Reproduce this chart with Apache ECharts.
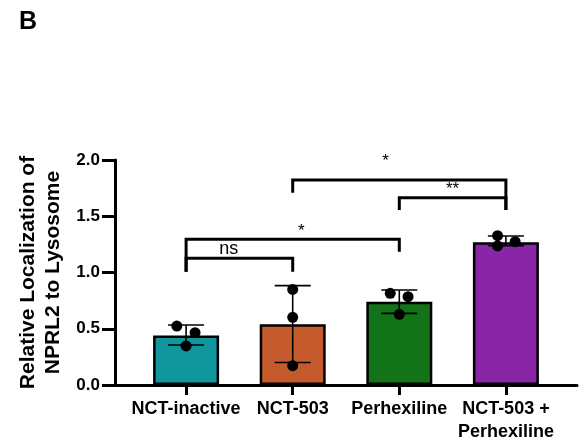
<!DOCTYPE html>
<html>
<head>
<meta charset="utf-8">
<script src="https://cdn.jsdelivr.net/npm/echarts@6/dist/echarts.min.js"></script>
<style>
html,body{margin:0;padding:0;background:#fff;}
#c{width:582px;height:444px;}
</style>
</head>
<body>
<div id="c"></div>
<script>
// ---- data ----
var categories = ['NCT-inactive', 'NCT-503', 'Perhexiline', 'NCT-503 +\nPerhexiline'];
var barColors = ['#10979e', '#c55a2c', '#137319', '#8826a6'];
var means = [0.44, 0.54, 0.74, 1.27];
var errLow = [0.355, 0.20, 0.637, 1.238];
var errHigh = [0.533, 0.883, 0.844, 1.324];
var points = [
  [0.524, 0.465, 0.347],
  [0.85, 0.602, 0.172],
  [0.815, 0.785, 0.628],
  [1.327, 1.274, 1.236]
];
var jitter = [
  [-0.087, 0.084, 0],
  [0, 0, 0],
  [-0.085, 0.082, 0],
  [-0.078, 0.087, -0.078]
];
// brackets: [fromIndex, toIndex, topY, leftLegY, rightLegY]
var brackets = [
  [0, 1, 1.126, 1.007, 1.007],
  [0, 2, 1.295, 1.007, 1.185],
  [2, 3, 1.665, 1.556, 1.556],
  [1, 3, 1.822, 1.709, 1.556]
];
var bracketLabels = ['ns', '*', '**', '*'];
var bracketLabelX = [0.40, 1.08, 2.50, 1.87];
var bracketLabelY = [1.126, 1.295, 1.665, 1.91];
var yTicks = [0, 0.5, 1.0, 1.5, 2.0];

// ---- build ----
var FONT = 'Liberation Sans, Arial, Helvetica, sans-serif';
var barData = means.map(function (v, i) {
  return { value: [i, v], itemStyle: { color: barColors[i] } };
});
var errData = means.map(function (v, i) { return [i, errLow[i], errHigh[i]]; });
var dotData = [];
points.forEach(function (arr, i) {
  arr.forEach(function (v, j) { dotData.push([i + jitter[i][j], v]); });
});
var brData = brackets.map(function (b) { return b.slice(); });
var lblData = bracketLabels.map(function (t, i) { return [bracketLabelX[i], bracketLabelY[i], t]; });

var chart = echarts.init(document.getElementById('c'), null, { renderer: 'canvas' });
chart.setOption({
  animation: false,
  backgroundColor: '#fff',
  textStyle: { fontFamily: FONT },
  title: {
    text: 'B', left: 14, top: 5,
    textStyle: { fontSize: 25, fontWeight: 'bold', color: '#000', fontFamily: FONT }
  },
  grid: { left: 115, right: 5, top: 160, bottom: 59, containLabel: false },
  xAxis: {
    type: 'value', min: -0.667, max: 3.667,
    splitLine: { show: false },
    axisLine: { show: true, onZero: false, lineStyle: { color: '#000', width: 3 } },
    axisTick: { show: true, length: 10, lineStyle: { color: '#000', width: 3 }, customValues: [0, 1, 2, 3] },
    axisLabel: {
      customValues: [0, 1, 2, 3],
      formatter: function (v) { return categories[Math.round(v)]; },
      color: '#000', fontSize: 18, fontWeight: 'bold', margin: 13, lineHeight: 23, fontFamily: FONT
    }
  },
  yAxis: {
    type: 'value', min: 0, max: 2.0, interval: 0.5,
    name: 'Relative Localization of\nNPRL2 to Lysosome',
    nameLocation: 'middle', nameRotate: 90, nameGap: 45,
    nameTextStyle: { fontSize: 21, fontWeight: 'bold', color: '#000', lineHeight: 25, fontFamily: FONT },
    splitLine: { show: false },
    axisLine: { show: true, onZero: false, lineStyle: { color: '#000', width: 3 } },
    axisTick: { show: true, length: 13, lineStyle: { color: '#000', width: 3 } },
    axisLabel: {
      formatter: function (v) { return v.toFixed(1); },
      color: '#000', fontSize: 17, fontWeight: 'bold', margin: 15, fontFamily: FONT
    }
  },
  series: [
    {
      type: 'bar', data: barData, barWidth: 66, z: 2,
      itemStyle: { borderColor: '#000', borderWidth: 2.5 }
    },
    {
      type: 'custom', z: 3, data: errData,
      renderItem: function (params, api) {
        var x = api.value(0);
        var lo = api.coord([x, api.value(1)]);
        var hi = api.coord([x, api.value(2)]);
        var half = 18;
        var st = { stroke: '#000', lineWidth: 1.6 };
        return {
          type: 'group', children: [
            { type: 'line', shape: { x1: lo[0], y1: lo[1], x2: hi[0], y2: hi[1] }, style: st },
            { type: 'line', shape: { x1: hi[0] - half, y1: hi[1], x2: hi[0] + half, y2: hi[1] }, style: st },
            { type: 'line', shape: { x1: lo[0] - half, y1: lo[1], x2: lo[0] + half, y2: lo[1] }, style: st }
          ]
        };
      }
    },
    {
      type: 'scatter', z: 4, data: dotData, symbol: 'circle', symbolSize: 11,
      itemStyle: { color: '#000', opacity: 1 }
    },
    {
      type: 'custom', z: 5, data: brData,
      renderItem: function (params, api) {
        var x1 = api.value(0), x2 = api.value(1);
        var top = api.value(2), ll = api.value(3), rl = api.value(4);
        var a = api.coord([x1, ll]), b = api.coord([x1, top]);
        var c = api.coord([x2, top]), d = api.coord([x2, rl]);
        return {
          type: 'polyline',
          shape: { points: [a, b, c, d] },
          style: { stroke: '#000', lineWidth: 3, fill: null, lineJoin: 'miter' }
        };
      }
    },
    {
      type: 'custom', z: 6, data: lblData,
      renderItem: function (params, api) {
        var p = api.coord([api.value(0), api.value(1)]);
        var t = bracketLabels[params.dataIndex];
        return {
          type: 'text',
          style: {
            x: p[0], y: p[1], text: t,
            align: 'center', verticalAlign: 'bottom',
            fontSize: t === 'ns' ? 18 : 17, fontFamily: FONT, fill: '#000'
          }
        };
      }
    }
  ]
});
</script>
</body>
</html>
